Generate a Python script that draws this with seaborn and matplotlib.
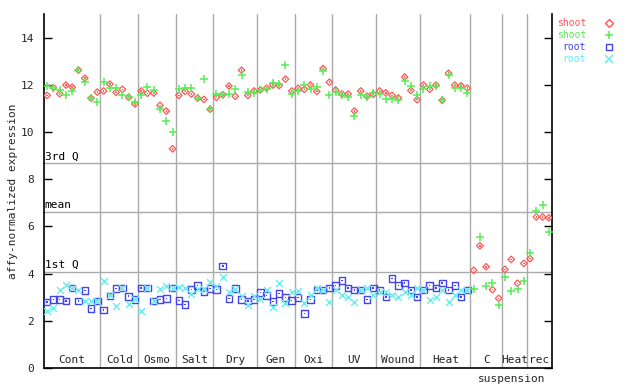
import numpy as np
import pandas as pd
import matplotlib
matplotlib.use("Agg")
import matplotlib.pyplot as plt
import seaborn as sns

# ---------------- data ----------------
group_labels = ["Cont", "Cold", "Osmo", "Salt", "Dry", "Gen", "Oxi", "UV",
                "Wound", "Heat", "C", "Heat", "rec"]
group_sizes = [9, 6, 6, 6, 7, 6, 6, 7, 7, 8, 5, 4, 4]
sub_label = "suspension"

shoot_red = [11.55, 11.88, 11.62, 11.99, 11.90, 12.62, 12.28, 11.43, 11.69,
             11.74, 12.03, 11.68, 11.81, 11.47, 11.19,
             11.74, 11.64, 11.65, 11.13, 10.89, 9.29,
             11.55, 11.72, 11.61, 11.44, 11.38, 10.96,
             11.47, 11.58, 11.95, 11.51, 12.62, 11.55, 11.74,
             11.78, 11.86, 11.99, 11.97, 12.24, 11.74,
             11.85, 11.81, 11.99, 11.72, 12.69, 12.11,
             11.78, 11.61, 11.61, 10.89, 11.74, 11.52, 11.60,
             11.74, 11.66, 11.55, 11.44, 12.33, 11.76, 11.37,
             11.99, 11.81, 11.99, 11.34, 12.49, 11.99, 11.96, 11.86,
             4.14, 5.18, 4.29, 3.32, 2.95,
             4.18, 4.60, 3.59, 4.43,
             4.63, 6.40, 6.40, 6.36]
shoot_green = [11.95, 11.88, 11.76, 11.57, 11.74, 12.62, 12.11, 11.43, 11.27,
               12.10, 11.85, 11.85, 11.55, 11.47, 11.27,
               11.58, 11.90, 11.78, 10.99, 10.47, 9.99,
               11.81, 11.86, 11.86, 11.45, 12.23, 10.96,
               11.61, 11.58, 11.60, 11.81, 12.40, 11.71, 11.65,
               11.78, 11.82, 12.07, 12.03, 12.83, 11.60,
               11.74, 11.99, 11.81, 11.90, 12.57, 11.55,
               11.69, 11.55, 11.47, 10.67, 11.55, 11.47, 11.64,
               11.61, 11.40, 11.40, 11.34, 12.16, 11.97, 11.57,
               11.81, 11.93, 11.95, 11.34, 12.40, 11.88, 11.85, 11.64,
               3.33, 5.57, 3.49, 3.62, 2.66,
               3.87, 3.28, 3.33, 3.70,
               4.88, 6.66, 6.91, 5.77]
root_blue = [2.79, 2.91, 2.91, 2.84, 3.38, 2.83, 3.29, 2.52, 2.83,
             2.46, 3.05, 3.36, 3.38, 3.04, 2.91,
             3.38, 3.38, 2.83, 2.91, 2.94, 3.38,
             2.86, 2.69, 3.33, 3.49, 3.24, 3.36,
             3.32, 4.33, 2.94, 3.36, 2.90, 2.83, 2.90,
             3.19, 3.07, 2.81, 3.15, 2.98, 2.86,
             2.98, 2.31, 2.90, 3.30, 3.30, 3.40,
             3.50, 3.70, 3.40, 3.30, 3.30, 2.90, 3.40,
             3.30, 3.00, 3.80, 3.50, 3.60, 3.30, 3.00,
             3.30, 3.50, 3.40, 3.60, 3.30, 3.50, 3.00, 3.30]
root_cyan = [2.41, 2.53, 3.32, 3.52, 3.38, 3.32, 2.83, 2.83, 2.83,
             3.70, 3.08, 2.62, 3.38, 2.70, 2.91,
             2.41, 3.38, 2.83, 3.36, 3.48, 3.38,
             3.45, 3.40, 3.15, 3.33, 3.33, 3.66,
             3.48, 3.87, 3.24, 3.36, 3.03, 2.65, 3.05,
             2.94, 3.32, 2.59, 3.62, 2.77, 3.24,
             3.26, 2.74, 3.10, 3.40, 3.30, 2.80,
             3.30, 3.10, 3.00, 2.80, 3.30, 3.40, 3.10,
             3.20, 3.20, 3.10, 3.00, 3.20, 3.10, 3.40,
             3.30, 2.90, 3.00, 3.30, 2.80, 3.10, 3.30, 3.30]

ref_lines = {"3rd Q": 8.68, "mean": 6.63, "1st Q": 4.08}
legend_labels = ["shoot", "shoot", "root", "root"]

# ---------------- styling ----------------
RED = "#ff5555"
GREEN = "#55ee55"
BLUE = "#4444ee"
CYAN = "#66eeee"
GRID = "#aaaaaa"
FONT = "DejaVu Sans Mono"
FS = 8

sns.set_style("white")
plt.rcParams["font.family"] = [FONT]

fig = plt.figure(figsize=(6.4, 3.84), dpi=100)
ax = fig.add_axes([44 / 640, 1 - 368 / 384, (552 - 44) / 640, (368 - 14) / 384])

n_total = sum(group_sizes)
x_shoot = np.arange(1, len(shoot_red) + 1)
x_root = np.arange(1, len(root_blue) + 1)

# group separators
bounds = np.concatenate([[0], np.cumsum(group_sizes)]) + 0.5
for b in bounds[1:-1]:
    ax.axvline(b, color=GRID, lw=1, zorder=1)
for name, v in ref_lines.items():
    ax.axhline(v, color=GRID, lw=1, zorder=1)
    ax.text(0.62, v + 0.08, name, fontsize=FS, family=FONT, ha="left", va="bottom",
            color="black", zorder=2)

df_s = pd.DataFrame({"x": x_shoot, "red": shoot_red, "green": shoot_green})
df_r = pd.DataFrame({"x": x_root, "blue": root_blue, "cyan": root_cyan})

# red diamonds (hollow with center dot)
sns.scatterplot(data=df_s, x="x", y="red", marker="D", s=11, color=RED,
                facecolor="none", edgecolor=RED, linewidth=0.9, ax=ax, zorder=3)
sns.scatterplot(data=df_s, x="x", y="red", marker="s", s=1.2, color=RED,
                edgecolor="none", linewidth=0, ax=ax, zorder=3)
# green plus
sns.scatterplot(data=df_s, x="x", y="green", marker="+", s=36, color=GREEN,
                linewidth=1.1, ax=ax, zorder=4)
# blue squares (hollow with center dot)
sns.scatterplot(data=df_r, x="x", y="blue", marker="s", s=22, color=BLUE,
                facecolor="none", edgecolor=BLUE, linewidth=1.0, ax=ax, zorder=3)
sns.scatterplot(data=df_r, x="x", y="blue", marker="s", s=1.2, color=BLUE,
                edgecolor="none", linewidth=0, ax=ax, zorder=3)
# cyan x
sns.scatterplot(data=df_r, x="x", y="cyan", marker="x", s=24, color=CYAN,
                linewidth=1.0, ax=ax, zorder=4)

ax.set_xlim(0.5, n_total + 0.5)
ax.set_ylim(0, 15)
ax.set_xticks([])
ax.set_yticks(np.arange(0, 15, 2))
ax.tick_params(axis="y", direction="in", length=6, width=1, color="black",
               left=True, right=True, labelsize=FS, pad=7)
for lab in ax.get_yticklabels():
    lab.set_family(FONT)
ax.set_xlabel("")
ax.set_ylabel("affy-normalized expression", fontsize=FS, family=FONT)
ax.yaxis.set_label_coords(-0.052, 0.5)

for side in ["left", "right", "bottom"]:
    ax.spines[side].set_visible(True)
    ax.spines[side].set_color("black")
    ax.spines[side].set_linewidth(1.2)
ax.spines["top"].set_visible(False)

# group labels
for i, lab in enumerate(group_labels):
    cx = (bounds[i] + bounds[i + 1]) / 2
    ax.text(cx, 0.12, lab, fontsize=FS, family=FONT, ha="center", va="bottom")
ax.text((bounds[10] + bounds[13]) / 2, -0.25, sub_label, fontsize=FS, family=FONT,
        ha="center", va="top", clip_on=False)

# legend
leg_colors = [RED, GREEN, BLUE, CYAN]
leg_markers = ["D", "+", "s", "x"]
leg_y = [23, 35, 47, 59]
for lab, c, m, yy in zip(legend_labels, leg_colors, leg_markers, leg_y):
    fy = 1 - yy / 384
    fig.text(586 / 640, fy, lab, color=c, fontsize=7, family=FONT,
             ha="right", va="center")
    if m in ("D", "s"):
        fig.lines.append(plt.Line2D([609 / 640], [fy], marker=m,
                                    markersize=3.6 if m == "D" else 4.5,
                                    markerfacecolor="none", markeredgecolor=c,
                                    markeredgewidth=1.0, linestyle="none",
                                    transform=fig.transFigure))
    else:
        fig.lines.append(plt.Line2D([609 / 640], [fy], marker=m, markersize=6,
                                    color=c, markeredgewidth=1.1, linestyle="none",
                                    transform=fig.transFigure))

fig.savefig("out.png", dpi=100)
